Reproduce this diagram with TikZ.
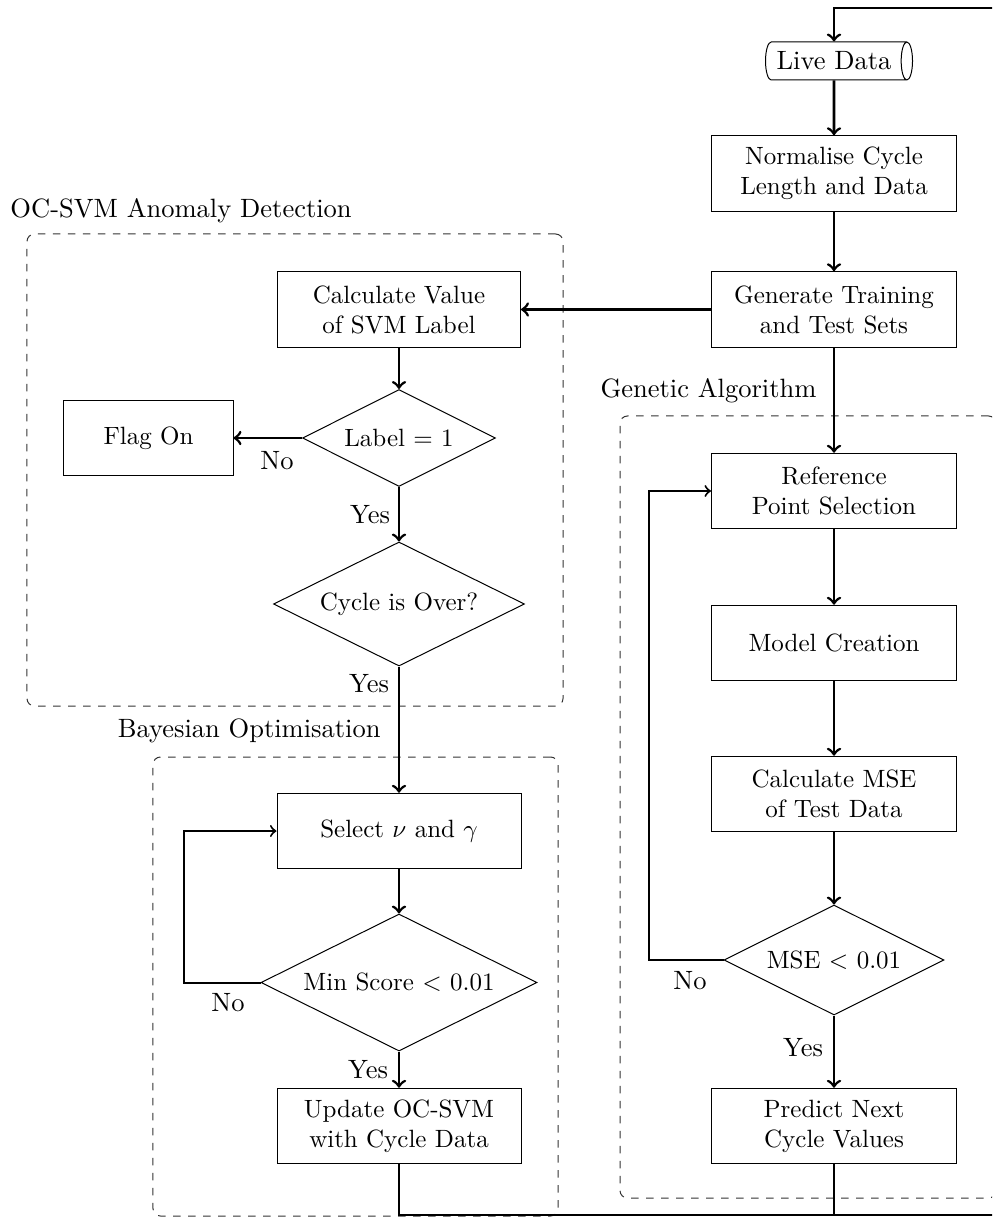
\documentclass[tikz,border=0pt]{standalone}
\usetikzlibrary{shapes.geometric,calc}
\begin{document}
\begin{tikzpicture}[x=0.4pt,y=-0.4pt,
  box/.style={draw, rectangle, minimum width=98pt, minimum height=30.2pt, align=center, inner sep=2pt},
  dec/.style={draw, diamond, aspect=2, inner sep=0pt, align=center},
  flow/.style={line width=1.1pt, ->},
  back/.style={line width=0.8pt, ->},
  grp/.style={draw=black!80, dashed, rounded corners=3pt, rectangle, inner sep=0pt},
  lbl/.style={inner sep=0pt, font=\fontsize{10.6pt}{12.7pt}\selectfont}]
\useasboundingbox (0,0) rectangle (992,1218);
\clip (0,0) rectangle (992,1218);

% groups
\node[grp, minimum width=214.4pt, minimum height=188.8pt] (g1) at (295,470) {};
\node[grp, minimum width=162pt, minimum height=183.6pt] (g2) at (355.5,986.5) {};
\node[grp, minimum width=150.4pt, minimum height=312.8pt] (g3) at (808,807) {};
\node[lbl, anchor=west] (t1) at (10,211) {OC-SVM Anomaly Detection};
\node[lbl, anchor=east] (t2) at (381,731) {Bayesian Optimisation};
\node[lbl, anchor=west] (t3) at (600,391) {Genetic Algorithm};

% right column
\node[draw, cylinder, shape aspect=0.4, minimum width=15.2pt, minimum height=58.8pt, inner sep=2pt, font=\fontsize{10.6pt}{12.7pt}\selectfont] (live) at (834,61) {Live Data};
\node[box] (norm) at (834,173.5) {Normalise Cycle\\Length and Data};
\node[box] (gen) at (834,309.5) {Generate Training\\and Test Sets};
\node[box] (ref) at (834,491) {Reference\\Point Selection};
\node[box] (model) at (834,643) {Model Creation};
\node[box] (mse) at (834,794) {Calculate MSE\\of Test Data};
\node[dec, minimum width=88pt, minimum height=44pt] (msed) at (834,960) {MSE $<$ 0.01};
\node[box] (pred) at (834,1126) {Predict Next\\Cycle Values};

% left column
\node[box, minimum width=97.2pt] (calc) at (399,309.5) {Calculate Value\\of SVM Label};
\node[dec, minimum width=77.2pt, minimum height=38.8pt] (labd) at (399,438) {Label = 1};
\node[box, minimum width=67.6pt] (flag) at (148.5,438) {Flag On};
\node[dec, minimum width=100.4pt, minimum height=49.6pt] (cyc) at (399,604) {Cycle is Over?};
\node[box, minimum width=97.6pt] (sel) at (399,831) {Select $\nu$ and $\gamma$};
\node[dec, minimum width=110.4pt, minimum height=54.8pt] (mind) at (399,982.5) {Min Score $<$ 0.01};
\node[box, minimum width=97.6pt] (upd) at (399,1126) {Update OC-SVM\\with Cycle Data};

% yes/no labels
\node[lbl] (n1) at (277,461) {No};
\node[lbl] (y1) at (370,515) {Yes};
\node[lbl] (y2) at (369,684) {Yes};
\node[lbl] (n2) at (228,1003) {No};
\node[lbl] (y3) at (368,1070) {Yes};
\node[lbl] (n3) at (690,981) {No};
\node[lbl] (y4) at (803,1048) {Yes};

% connectors
\draw[flow] (live) -- (norm);
\draw[flow] (norm) -- (gen);
\draw[flow] (gen) -- (calc);
\draw[flow] (gen) -- (ref);
\draw[flow] (ref) -- (model);
\draw[flow] (model) -- (mse);
\draw[flow] (mse) -- (msed);
\draw[flow] (msed) -- (pred);
\draw[flow] (calc) -- (labd);
\draw[flow] (labd) -- (flag);
\draw[flow] (labd) -- (cyc);
\draw[flow] (cyc) -- (sel);
\draw[flow] (sel) -- (mind);
\draw[flow] (mind) -- (upd);

\coordinate (lb) at (184,831);
\coordinate (rb) at (649,491);
\draw[back] (mind.west) -| (lb) -- (sel.west);
\draw[back] (msed.west) -| (rb) -- (ref.west);

\coordinate (br) at (1000,1215);
\coordinate (tr) at (1000,8);
\draw[line width=0.8pt] (upd.south) |- (br);
\draw[line width=0.8pt] (pred.south) -- (pred.south |- br);
\draw[flow] (br) -- (tr) -| (live.north);
\end{tikzpicture}
\end{document}
